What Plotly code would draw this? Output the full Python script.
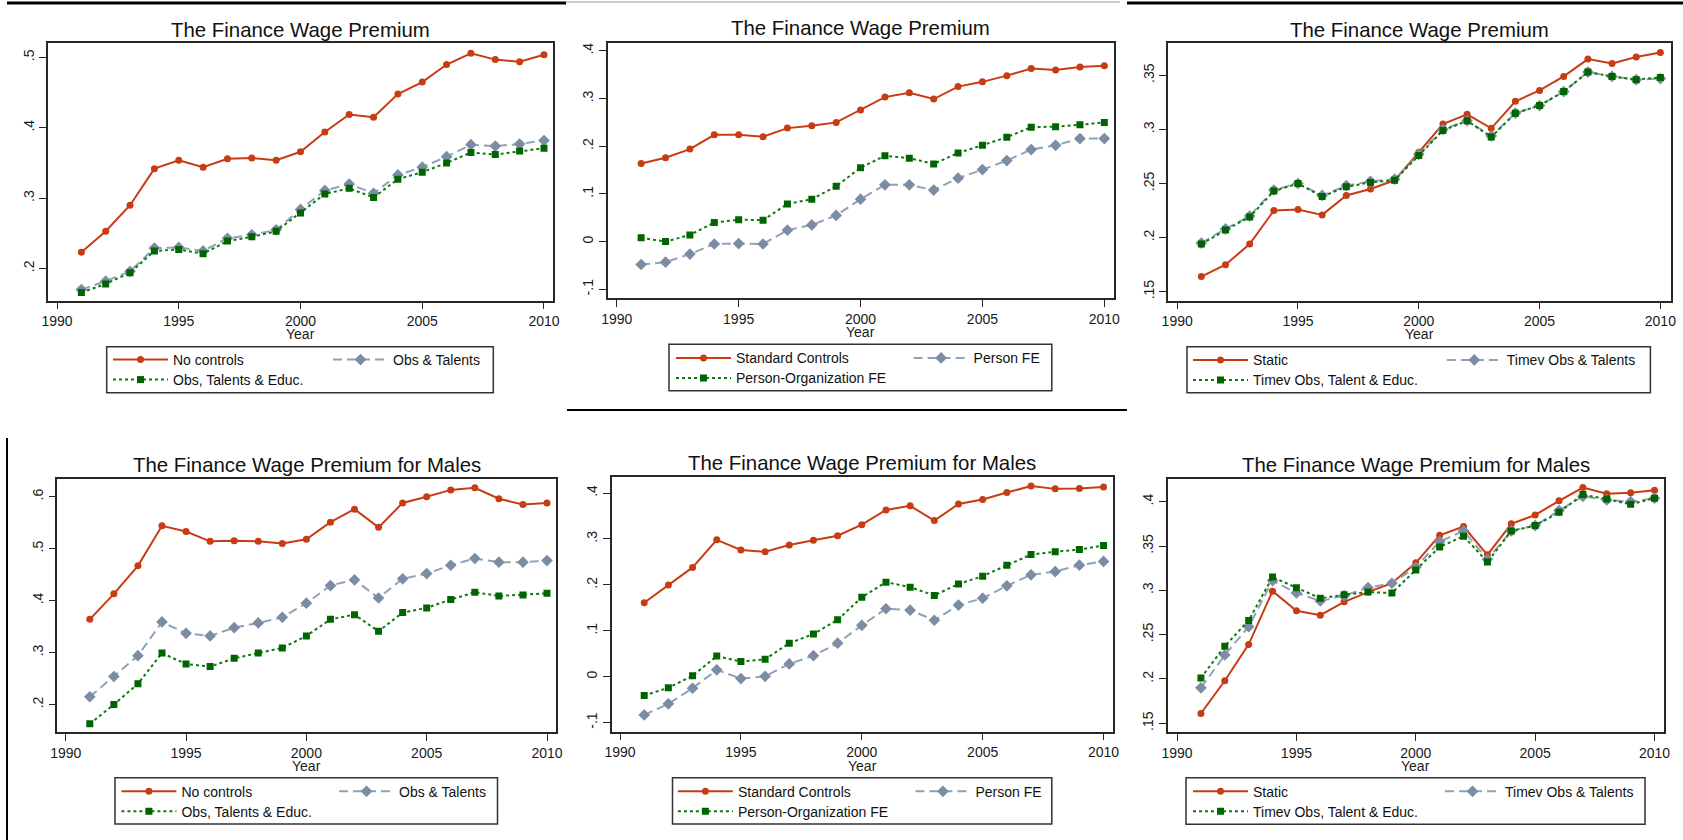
import plotly.graph_objects as go

W, H = 1683, 840
FONT = "Liberation Sans, Arial, sans-serif"

years = list(range(1991, 2011))
x_ticks = [1990, 1995, 2000, 2005, 2010]
x_ticktext = ["1990", "1995", "2000", "2005", "2010"]

title_all = "The Finance Wage Premium"
title_males = "The Finance Wage Premium for Males"

labels_basic = ["No controls", "Obs & Talents", "Obs, Talents & Educ."]
labels_fe = ["Standard Controls", "Person FE", "Person-Organization FE"]
labels_timev = ["Static", "Timev Obs & Talents", "Timev Obs, Talent & Educ."]

# --- all workers -------------------------------------------------------------
p1_no_controls = [0.223, 0.253, 0.290, 0.342, 0.354, 0.344, 0.356, 0.357, 0.354, 0.366,
                  0.394, 0.419, 0.415, 0.448, 0.465, 0.490, 0.506, 0.497, 0.494, 0.504]
p1_obs_talents = [0.170, 0.182, 0.196, 0.229, 0.230, 0.225, 0.243, 0.248, 0.255, 0.284,
                  0.311, 0.320, 0.307, 0.333, 0.344, 0.359, 0.376, 0.374, 0.377, 0.382]
p1_obs_talents_educ = [0.166, 0.178, 0.194, 0.225, 0.227, 0.221, 0.239, 0.245, 0.253, 0.279,
                       0.306, 0.314, 0.301, 0.327, 0.337, 0.350, 0.365, 0.362, 0.367, 0.371]

p2_standard = [0.164, 0.176, 0.194, 0.224, 0.224, 0.220, 0.238, 0.243, 0.250, 0.276,
               0.303, 0.312, 0.299, 0.325, 0.335, 0.348, 0.363, 0.360, 0.366, 0.369]
p2_person_fe = [-0.048, -0.043, -0.026, -0.005, -0.004, -0.005, 0.024, 0.035, 0.055, 0.089,
                0.119, 0.119, 0.108, 0.133, 0.151, 0.170, 0.193, 0.202, 0.216, 0.216]
p2_person_org_fe = [0.008, 0.000, 0.014, 0.040, 0.046, 0.045, 0.079, 0.089, 0.116, 0.155,
                    0.180, 0.175, 0.163, 0.186, 0.202, 0.219, 0.240, 0.241, 0.245, 0.250]

p3_static = [0.164, 0.175, 0.194, 0.225, 0.226, 0.221, 0.239, 0.245, 0.253, 0.279,
             0.305, 0.314, 0.301, 0.326, 0.336, 0.349, 0.365, 0.361, 0.367, 0.371]
p3_timev_obs_talents = [0.195, 0.208, 0.220, 0.244, 0.250, 0.239, 0.248, 0.252, 0.254, 0.277,
                        0.300, 0.308, 0.294, 0.315, 0.322, 0.335, 0.353, 0.349, 0.346, 0.347]
p3_timev_obs_talent_educ = [0.194, 0.207, 0.219, 0.243, 0.250, 0.238, 0.247, 0.251, 0.253, 0.276,
                            0.299, 0.308, 0.293, 0.315, 0.322, 0.335, 0.353, 0.349, 0.346, 0.348]

# --- males -------------------------------------------------------------------
p4_no_controls = [0.364, 0.413, 0.467, 0.544, 0.533, 0.514, 0.515, 0.514, 0.510, 0.518,
                  0.551, 0.576, 0.541, 0.588, 0.600, 0.613, 0.617, 0.596, 0.585, 0.588]
p4_obs_talents = [0.215, 0.254, 0.294, 0.359, 0.337, 0.332, 0.348, 0.357, 0.368, 0.395,
                  0.429, 0.440, 0.405, 0.442, 0.452, 0.468, 0.481, 0.474, 0.474, 0.477]
p4_obs_talents_educ = [0.163, 0.200, 0.240, 0.299, 0.278, 0.273, 0.289, 0.299, 0.309, 0.332,
                       0.364, 0.373, 0.341, 0.377, 0.386, 0.402, 0.416, 0.409, 0.411, 0.414]

p5_standard = [0.161, 0.200, 0.238, 0.298, 0.276, 0.272, 0.287, 0.297, 0.307, 0.331,
               0.363, 0.372, 0.340, 0.376, 0.386, 0.401, 0.415, 0.409, 0.410, 0.413]
p5_person_fe = [-0.083, -0.059, -0.025, 0.015, -0.004, 0.001, 0.028, 0.046, 0.073, 0.112,
                0.148, 0.145, 0.123, 0.156, 0.171, 0.198, 0.222, 0.229, 0.243, 0.251]
p5_person_org_fe = [-0.041, -0.024, 0.002, 0.045, 0.033, 0.038, 0.073, 0.093, 0.124, 0.173,
                    0.206, 0.195, 0.177, 0.202, 0.219, 0.243, 0.266, 0.272, 0.277, 0.286]

p6_static = [0.161, 0.198, 0.239, 0.299, 0.277, 0.272, 0.287, 0.298, 0.308, 0.331,
             0.362, 0.372, 0.340, 0.375, 0.385, 0.401, 0.416, 0.409, 0.410, 0.413]
p6_timev_obs_talents = [0.190, 0.227, 0.259, 0.311, 0.297, 0.288, 0.294, 0.303, 0.308, 0.326,
                        0.355, 0.367, 0.335, 0.367, 0.373, 0.390, 0.406, 0.402, 0.400, 0.404]
p6_timev_obs_talent_educ = [0.201, 0.237, 0.266, 0.315, 0.303, 0.291, 0.295, 0.298, 0.297, 0.323,
                            0.349, 0.361, 0.332, 0.367, 0.373, 0.388, 0.408, 0.403, 0.397, 0.404]

# y tick values / labels per panel
yt_p1 = [0.2, 0.3, 0.4, 0.5]
yl_p1 = [".2", ".3", ".4", ".5"]
yt_p2 = [-0.1, 0.0, 0.1, 0.2, 0.3, 0.4]
yl_p2 = ["-.1", "0", ".1", ".2", ".3", ".4"]
yt_p3 = [0.15, 0.2, 0.25, 0.3, 0.35]
yl_p3 = [".15", ".2", ".25", ".3", ".35"]
yt_p4 = [0.2, 0.3, 0.4, 0.5, 0.6]
yl_p4 = [".2", ".3", ".4", ".5", ".6"]
yt_p5 = [-0.1, 0.0, 0.1, 0.2, 0.3, 0.4]
yl_p5 = ["-.1", "0", ".1", ".2", ".3", ".4"]
yt_p6 = [0.15, 0.2, 0.25, 0.3, 0.35, 0.4]
yl_p6 = [".15", ".2", ".25", ".3", ".35", ".4"]

# colours / line styles of the three specifications
RED = "#C83C14"
GRAY_LINE = "#8EA2B8"
GRAY_MARK = "#7B8DA3"
GREEN_LINE = "#0E7A0E"
GREEN_MARK = "#006400"

panels = [
    dict(title=title_all, labels=labels_basic,
         series=[p1_no_controls, p1_obs_talents, p1_obs_talents_educ],
         yt=yt_p1, yl=yl_p1,
         plot=(48, 43.3, 552.5, 300.5), xr=(1989.63, 2010.35), yr=(0.1545, 0.5202),
         box=(106.7, 346.7, 493.3, 392.7), rows=(360, 380), cols=(113, 333),
         ty=30, yeary=334.5),
    dict(title=title_all, labels=labels_fe,
         series=[p2_standard, p2_person_fe, p2_person_org_fe],
         yt=yt_p2, yl=yl_p2,
         plot=(607.5, 42.5, 1113.6, 298), xr=(1989.62, 2010.38), yr=(-0.1182, 0.4175),
         box=(669, 344.3, 1051.8, 390.7), rows=(358.3, 378.3), cols=(676, 913.6),
         ty=28.5, yeary=332),
    dict(title=title_all, labels=labels_timev,
         series=[p3_static, p3_timev_obs_talents, p3_timev_obs_talent_educ],
         yt=yt_p3, yl=yl_p3,
         plot=(1168, 43.3, 1671, 300.7), xr=(1989.62, 2010.44), yr=(0.1417, 0.3796),
         box=(1187, 346.7, 1650.4, 392.7), rows=(360.3, 380.3), cols=(1193, 1446.8),
         ty=30, yeary=334.5),
    dict(title=title_males, labels=labels_basic,
         series=[p4_no_controls, p4_obs_talents, p4_obs_talents_educ],
         yt=yt_p4, yl=yl_p4,
         plot=(57.3, 479, 556.4, 732.3), xr=(1989.65, 2010.39), yr=(0.1466, 0.634),
         box=(115, 777.7, 497.5, 824), rows=(791.7, 811.7), cols=(121.4, 339),
         ty=465, yeary=766),
    dict(title=title_males, labels=labels_fe,
         series=[p5_standard, p5_person_fe, p5_person_org_fe],
         yt=yt_p5, yl=yl_p5,
         plot=(611.8, 476.7, 1112.5, 731.7), xr=(1989.66, 2010.37), yr=(-0.1196, 0.4355),
         box=(672.5, 777.7, 1051.8, 824), rows=(791.7, 811.7), cols=(677.9, 915.4),
         ty=463.3, yeary=765.5),
    dict(title=title_males, labels=labels_timev,
         series=[p6_static, p6_timev_obs_talents, p6_timev_obs_talent_educ],
         yt=yt_p6, yl=yl_p6,
         plot=(1167.5, 479, 1663.6, 732.3), xr=(1989.60, 2010.38), yr=(0.1398, 0.4256),
         box=(1186, 777.7, 1645, 824.3), rows=(791.7, 811.7), cols=(1193, 1445),
         ty=465, yeary=766),
]

styles = [
    dict(line=dict(color=RED, width=2),
         marker=dict(symbol="circle", size=7, color=RED)),
    dict(line=dict(color=GRAY_LINE, width=2, dash="9px,5px"),
         marker=dict(symbol="diamond", size=9, color=GRAY_MARK)),
    dict(line=dict(color=GREEN_LINE, width=2, dash="dot"),
         marker=dict(symbol="square", size=7, color=GREEN_MARK)),
]


def px(x):
    return x / W


def py(y):
    return 1 - y / H


LEG_OFF = 5      # distance from legend origin to the start of the key line
ITEM_W = 55

fig = go.Figure()
layout = dict(
    width=W, height=H,
    margin=dict(l=0, r=0, t=0, b=0, autoexpand=False),
    paper_bgcolor="white", plot_bgcolor="white",
    font=dict(family=FONT, size=14, color="#111111"),
    showlegend=True,
)
annotations = []
shapes = []
leg_idx = 0

for i, p in enumerate(panels):
    n = "" if i == 0 else str(i + 1)
    xa, ya = "x" + n, "y" + n
    x0, y0, x1, y1 = p["plot"]
    axis_common = dict(
        showgrid=False, zeroline=False, showline=True, mirror=True,
        linecolor="#262626", linewidth=1.5,
        ticks="outside", ticklen=7, tickwidth=1, tickcolor="#262626",
        tickfont=dict(family=FONT, size=14, color="#1a1a1a"),
    )
    layout["xaxis" + n] = dict(
        axis_common, domain=[px(x0), px(x1)], range=list(p["xr"]),
        tickmode="array", tickvals=x_ticks, ticktext=x_ticktext,
        anchor=ya,
    )
    layout["yaxis" + n] = dict(
        axis_common, domain=[py(y1), py(y0)], range=list(p["yr"]),
        tickmode="array", tickvals=p["yt"], ticktext=p["yl"], tickangle=-90,
        anchor=xa,
    )

    # key layout: row 1 holds entries 1 and 2, row 2 holds entry 3
    key_pos = [(p["cols"][0], p["rows"][0]), (p["cols"][1], p["rows"][0]),
               (p["cols"][0], p["rows"][1])]
    for j, (vals, st, lab) in enumerate(zip(p["series"], styles, p["labels"])):
        leg_idx += 1
        lname = "legend" if leg_idx == 1 else "legend%d" % leg_idx
        fig.add_trace(go.Scatter(
            x=years, y=vals, mode="lines+markers", name=lab,
            line=st["line"], marker=st["marker"],
            xaxis=xa, yaxis=ya, legend=lname,
        ))
        kx, ky = key_pos[j]
        layout[lname] = dict(
            x=px(kx - LEG_OFF), y=py(ky), xanchor="left", yanchor="middle",
            bgcolor="rgba(0,0,0,0)", borderwidth=0, itemwidth=ITEM_W,
            font=dict(family=FONT, size=14, color="#111111"),
            orientation="v", tracegroupgap=0, itemclick=False,
        )

    annotations.append(dict(
        text=p["title"], xref=xa + " domain", x=0.5, yref="paper", y=py(p["ty"]),
        xanchor="center", yanchor="middle", showarrow=False,
        font=dict(family=FONT, size=20.4, color="#111111"),
    ))
    annotations.append(dict(
        text="Year", xref=xa + " domain", x=0.5, yref="paper", y=py(p["yeary"]),
        xanchor="center", yanchor="middle", showarrow=False, borderpad=0,
        font=dict(family=FONT, size=14, color="#1a1a1a"),
    ))
    bx0, by0, bx1, by1 = p["box"]
    shapes.append(dict(type="rect", xref="paper", yref="paper",
                       x0=px(bx0), x1=px(bx1), y0=py(by1), y1=py(by0),
                       line=dict(color="#333333", width=1.5)))

# page rules separating the panels
rules = [
    ((7, 3), (566, 3), 3, "#000000"),
    ((566, 2), (1120, 2), 1, "#9a9a9a"),
    ((1127, 3), (1683, 3), 3, "#000000"),
    ((567, 410), (1127, 410), 2, "#000000"),
    ((7, 438), (7, 840), 2, "#000000"),
]
for (ax, ay), (bx, by), w, c in rules:
    shapes.append(dict(type="line", xref="paper", yref="paper",
                       x0=px(ax), y0=py(ay), x1=px(bx), y1=py(by),
                       line=dict(color=c, width=w)))

layout["annotations"] = annotations
layout["shapes"] = shapes
fig.update_layout(**layout)
fig.write_html("out.html")
